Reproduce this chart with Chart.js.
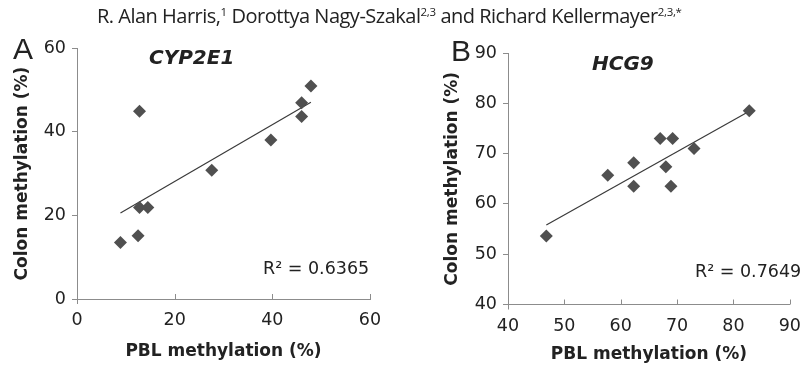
<!DOCTYPE html>
<html>
<head>
<meta charset="utf-8">
<script src="https://cdn.jsdelivr.net/npm/chart.js@4.4.1/dist/chart.umd.min.js"></script>
<style>
  html, body { margin: 0; padding: 0; background: #fff; }
  body { width: 812px; height: 370px; overflow: hidden; position: relative; }
  canvas { position: absolute; top: 0; }
  #ca { left: 0; }
  #cb { left: 430px; }
  .t { position: absolute; white-space: nowrap; color: #222; line-height: 1; }
  #hdr { top: 6px; left: 97px; font-family: "Open Sans", sans-serif; font-size: 20px; color: #222; letter-spacing: -0.5px; }
  #hdr sup { font-size: 11.5px; vertical-align: 7px; line-height: 0; letter-spacing: -0.3px; }
  .letter { font-family: "Liberation Sans", Arial, sans-serif; font-size: 30px; color: #222; }
  .gene { font-family: "DejaVu Sans", sans-serif; font-weight: bold; font-style: italic; font-size: 20px; color: #222; }
  .r2 { font-family: "DejaVu Sans", sans-serif; font-size: 17.5px; color: #222; }
</style>
</head>
<body>
<canvas id="ca" width="400" height="370"></canvas>
<canvas id="cb" width="382" height="370"></canvas>
<div class="t" id="hdr">R. Alan Harris,<sup>1</sup> Dorottya Nagy-Szakal<sup>2,3</sup> and Richard Kellermayer<sup>2,3,*</sup></div>
<div class="t letter" style="left:13px;top:34px;">A</div>
<div class="t letter" style="left:451px;top:36px;">B</div>
<div class="t gene" style="left:149px;top:47px;">CYP2E1</div>
<div class="t gene" style="left:592px;top:53px;">HCG9</div>
<div class="t r2" style="left:263px;top:260px;">R² = 0.6365</div>
<div class="t r2" style="left:695px;top:263px;">R² = 0.7649</div>
<script>
// ---- data ----
const cypPBL   = [8.9, 12.5, 12.8, 12.8, 14.5, 27.6, 39.7, 46.0, 46.0, 47.9];
const cypColon = [13.5, 15.1, 44.9, 21.9, 21.9, 30.8, 38.0, 43.6, 46.9, 50.9];
const hcgPBL   = [46.8, 57.7, 62.3, 62.3, 67.0, 69.2, 68.0, 68.9, 73.0, 82.8];
const hcgColon = [53.6, 65.7, 68.2, 63.5, 73.0, 73.0, 67.4, 63.5, 71.0, 78.5];
const cypXTicks = [0, 20, 40, 60];
const cypYTicks = [0, 20, 40, 60];
const hcgXTicks = [40, 50, 60, 70, 80, 90];
const hcgYTicks = [40, 50, 60, 70, 80, 90];
const xTitle = 'PBL methylation (%)';
const yTitle = 'Colon methylation (%)';

function fit(xs, ys) {
  const n = xs.length;
  const mx = xs.reduce((a, b) => a + b, 0) / n;
  const my = ys.reduce((a, b) => a + b, 0) / n;
  let sxy = 0, sxx = 0;
  for (let i = 0; i < n; i++) { sxy += (xs[i] - mx) * (ys[i] - my); sxx += (xs[i] - mx) ** 2; }
  const b = sxy / sxx, a = my - b * mx;
  const x0 = Math.min(...xs), x1 = Math.max(...xs);
  return [{ x: x0, y: a + b * x0 }, { x: x1, y: a + b * x1 }];
}

const AXIS = '#8c8c8c';
const TXT = '#222';

const innerTicks = {
  id: 'innerTicks',
  afterDatasetsDraw(chart) {
    const sx = chart.scales.x;
    const ctx = chart.ctx;
    ctx.save();
    ctx.strokeStyle = AXIS;
    ctx.lineWidth = 1;
    sx.ticks.forEach((t, i) => {
      const px = Math.round(sx.getPixelForValue(t.value)) + 0.5;
      ctx.beginPath();
      if (i === 0) { ctx.moveTo(px, sx.top); ctx.lineTo(px, sx.top + 5); }
      else { ctx.moveTo(px, sx.top); ctx.lineTo(px, sx.top - 5); }
      ctx.stroke();
    });
    ctx.restore();
  }
};

function makeChart(id, xs, ys, xTicks, yTicks, geom) {
  const line = fit(xs, ys);
  const pts = xs.map((x, i) => ({ x, y: ys[i] }));
  return new Chart(document.getElementById(id), {
    type: 'scatter',
    data: {
      datasets: [
        { data: pts, pointStyle: 'rectRot', pointRadius: 6.5, backgroundColor: '#505050', borderWidth: 0, order: 1 },
        { type: 'line', data: line, showLine: true, borderColor: '#3a3a3a', borderWidth: 1.2, pointRadius: 0, fill: false, order: 2 }
      ]
    },
    options: {
      responsive: false,
      devicePixelRatio: 1,
      animation: false,
      events: [],
      layout: { padding: { left: 0, top: geom.top, right: geom.right, bottom: 0 } },
      plugins: { legend: { display: false }, tooltip: { enabled: false } },
      scales: {
        x: {
          type: 'linear',
          min: xTicks[0], max: xTicks[xTicks.length - 1],
          afterBuildTicks: s => { s.ticks = xTicks.map(v => ({ value: v })); },
          afterFit: s => { s.height = geom.xh; },
          grid: { display: false, drawTicks: false },
          border: { display: true, color: AXIS, width: 1 },
          ticks: { color: TXT, padding: 11, maxRotation: 0, font: { family: 'DejaVu Sans', size: 17.5 } },
          title: { display: true, text: xTitle, color: TXT, padding: { top: 0, bottom: geom.xtp }, font: { family: 'DejaVu Sans', size: 17, weight: 'bold' } }
        },
        y: {
          type: 'linear',
          min: yTicks[0], max: yTicks[yTicks.length - 1],
          afterBuildTicks: s => { s.ticks = yTicks.map(v => ({ value: v })); },
          afterFit: s => { s.width = geom.yw; },
          grid: { drawOnChartArea: false, drawTicks: true, tickLength: 5, color: AXIS },
          border: { display: true, color: AXIS, width: 1 },
          ticks: { color: TXT, padding: 6, font: { family: 'DejaVu Sans', size: 17.5 } },
          title: { display: true, text: yTitle, color: TXT, padding: { top: 12, bottom: 0 }, font: { family: 'DejaVu Sans', size: 17, weight: 'bold' } }
        }
      }
    },
    plugins: [innerTicks]
  });
}

makeChart('ca', cypPBL, cypColon, cypXTicks, cypYTicks, { top: 48, right: 30, xh: 71, yw: 77, xtp: 8 });
makeChart('cb', hcgPBL, hcgColon, hcgXTicks, hcgYTicks, { top: 53, right: 19, xh: 65.5, yw: 78, xtp: 5 });
</script>
</body>
</html>
